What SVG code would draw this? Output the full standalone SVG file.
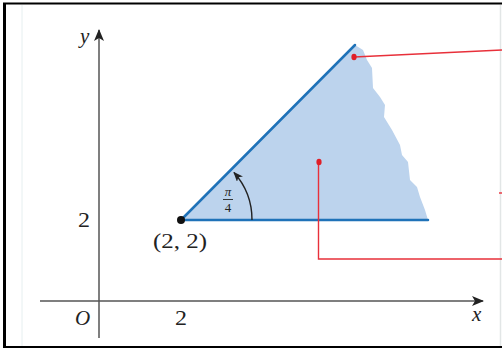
<svg xmlns="http://www.w3.org/2000/svg" width="502" height="349" viewBox="0 0 502 349">
<style>
.ax{stroke:#555;stroke-width:1.5;fill:none}
.bl{stroke:#1f72b8;stroke-width:2.5;fill:none;stroke-linecap:round}
.rd{stroke:#e8303a;stroke-width:1.4;fill:none}
.t{font-family:"Liberation Serif","DejaVu Serif",serif;fill:#222}
.it{font-style:italic}
</style>
<defs>
<marker id="ah" viewBox="0 0 12 10" refX="11" refY="5" markerWidth="12" markerHeight="10" markerUnits="userSpaceOnUse" orient="auto">
<path d="M0,0 L12,5 L0,10 L3,5 Z" fill="#222"/>
</marker>
<marker id="ah2" viewBox="0 0 10 8" refX="9" refY="4" markerWidth="10" markerHeight="8" markerUnits="userSpaceOnUse" orient="auto">
<path d="M0,0 L10,4 L0,8 L2.5,4 Z" fill="#222"/>
</marker>
</defs>
<rect width="502" height="349" fill="#fff"/>
<line x1="22" y1="5" x2="22" y2="346" stroke="#e6eff0" stroke-width="1"/>
<line x1="500.5" y1="5" x2="500.5" y2="346" stroke="#e2e6e6" stroke-width="1.5"/>
<rect x="3" y="3" width="3" height="345" fill="#000"/>
<rect x="3" y="2.5" width="499" height="2" fill="#000"/>
<rect x="3" y="346" width="499" height="2" fill="#000"/>

<g id="region">
<path d="M181,220 L355,45 L363,50 L367,60 L372,68 L373,88 L380,97 L385,105 L384,117 L392,130 L400,145 L402,155 L408,162 L410,180 L417,187 L420,197 L425,210 L428,220 Z" fill="#bcd3ed"/>
</g>

<g id="axes">
<line class="ax" x1="99" y1="338" x2="99" y2="30" marker-end="url(#ah)"/>
<line class="ax" x1="40" y1="301" x2="483" y2="301" marker-end="url(#ah)"/>
</g>

<g id="rays">
<line class="bl" x1="181" y1="220" x2="428" y2="220"/>
<line class="bl" x1="181" y1="220" x2="355" y2="45"/>
</g>

<g id="connectors">
<path class="rd" d="M354,57 L502,50"/>
<path class="rd" d="M318.5,162 L318.5,259 L502,259"/>
<path class="rd" d="M499,193 L502,193"/>
<path d="M252,220 A71,71 0 0 0 234,172.5" stroke="#222" stroke-width="1.4" fill="none" marker-end="url(#ah2)"/>
</g>

<g id="dots">
<circle cx="181" cy="220" r="4" fill="#111"/>
<ellipse cx="354" cy="57" rx="2.6" ry="3.3" fill="#e01e28"/>
<ellipse cx="319" cy="162" rx="2.6" ry="3.3" fill="#e01e28"/>
</g>

<g id="labels">
<text class="t it" x="80" y="43" font-size="21">y</text>
<text class="t it" x="75" y="325" font-size="21">O</text>
<text class="t it" x="472" y="321" font-size="21">x</text>
<text class="t" x="175" y="325" font-size="21" textLength="12" lengthAdjust="spacingAndGlyphs">2</text>
<text class="t" x="78" y="227" font-size="21" textLength="12" lengthAdjust="spacingAndGlyphs">2</text>
<text class="t" x="153" y="248" font-size="20" textLength="54" lengthAdjust="spacingAndGlyphs">(2, 2)</text>
<text class="t it" x="228" y="196" font-size="13" text-anchor="middle">π</text>
<line x1="223" y1="199.5" x2="233" y2="199.5" stroke="#222" stroke-width="0.9"/>
<text class="t" x="228" y="211.5" font-size="13" text-anchor="middle">4</text>
</g>
</svg>
